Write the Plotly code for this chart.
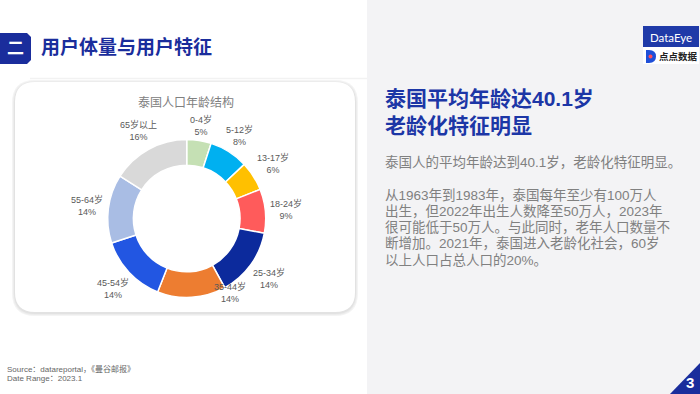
import math
import plotly.graph_objects as go

W, H = 700, 394

# ---- data ----
age_groups = ["0-4岁", "5-12岁", "13-17岁", "18-24岁", "25-34岁",
              "35-44岁", "45-54岁", "55-64岁", "65岁以上"]
shares = [5, 8, 6, 9, 14, 14, 14, 14, 16]
slice_colors = ["#c5e0b4", "#00b0f0", "#ffc000", "#ff5b5b", "#0c2a9c",
                "#ed7d31", "#2256e2", "#a9bde4", "#d9d9d9"]

chart_title = "泰国人口年龄结构"
page_title = "用户体量与用户特征"
badge_text = "二"
headline = ["泰国平均年龄达40.1岁", "老龄化特征明显"]
lead_line = "泰国人的平均年龄达到40.1岁，老龄化特征明显。"
para_lines = [
    "从1963年到1983年，泰国每年至少有100万人",
    "出生，但2022年出生人数降至50万人，2023年",
    "很可能低于50万人。与此同时，老年人口数量不",
    "断增加。2021年，泰国进入老龄化社会，60岁",
    "以上人口占总人口的20%。",
]
source_lines = ["Source：datareportal，《曼谷邮报》", "Date Range：2023.1"]
page_no = "3"

# layout tweak for one label that the source deck moved by hand (angle deg, radius px)
label_nudge = {"35-44岁": (-27, -8)}

FONT = "Liberation Sans, Noto Sans CJK SC, sans-serif"
BLUE = "#1c36a6"
DARK_BLUE = "#1a2d9c"


def px(x):
    return x / W


def py(y):
    return 1 - y / H


def pt(x, y):
    return f"{px(x):.5f},{py(y):.5f}"


def rrect_path(x0, y0, x1, y1, r):
    return (f"M {pt(x0 + r, y0)} L {pt(x1 - r, y0)} Q {pt(x1, y0)} {pt(x1, y0 + r)} "
            f"L {pt(x1, y1 - r)} Q {pt(x1, y1)} {pt(x1 - r, y1)} "
            f"L {pt(x0 + r, y1)} Q {pt(x0, y1)} {pt(x0, y1 - r)} "
            f"L {pt(x0, y0 + r)} Q {pt(x0, y0)} {pt(x0 + r, y0)} Z")


def poly_path(points):
    return "M " + " L ".join(pt(x, y) for x, y in points) + " Z"


shapes = []
# right grey panel
shapes.append(dict(type="rect", xref="paper", yref="paper", x0=px(367), x1=1, y0=0, y1=1,
                   fillcolor="#f3f3f5", line=dict(width=0), layer="below"))
# faint header underline
shapes.append(dict(type="line", xref="paper", yref="paper", x0=px(30), x1=px(367),
                   y0=py(78.5), y1=py(78.5), line=dict(color="#f2f2f2", width=1.5), layer="below"))
# card shadow layers
for grow, col in [(3, "#f4f4f4"), (2, "#ececec"), (1, "#e2e2e2")]:
    shapes.append(dict(type="path", xref="paper", yref="paper",
                       path=rrect_path(15 - grow, 82 - grow + 1, 355 + grow, 312 + grow + 1, 20 + grow),
                       fillcolor=col, line=dict(width=0), layer="below"))
shapes.append(dict(type="path", xref="paper", yref="paper",
                   path=rrect_path(15, 82, 355, 312, 20),
                   fillcolor="white", line=dict(width=0), layer="below"))
# header badge
shapes.append(dict(type="path", xref="paper", yref="paper",
                   path=poly_path([(0, 33), (27, 33), (31, 37), (31, 60), (27, 64), (0, 64)]),
                   fillcolor=DARK_BLUE, line=dict(width=0), layer="below"))
# logo box
shapes.append(dict(type="rect", xref="paper", yref="paper", x0=px(643), x1=px(699),
                   y0=py(47), y1=py(26), fillcolor="#1f3aa8", line=dict(width=0), layer="below"))
shapes.append(dict(type="rect", xref="paper", yref="paper", x0=px(643), x1=px(699),
                   y0=py(64), y1=py(47), fillcolor="white", line=dict(width=0), layer="below"))
# small logo icon
shapes.append(dict(type="path", xref="paper", yref="paper",
                   path=(f"M {pt(646, 50)} L {pt(649, 50)} Q {pt(656, 50)} {pt(656, 56.5)} "
                         f"Q {pt(656, 63)} {pt(649, 63)} L {pt(646, 63)} Z"),
                   fillcolor="#1f4fd8", line=dict(width=0), layer="below"))
shapes.append(dict(type="circle", xref="paper", yref="paper", x0=px(648.5), x1=px(652.5),
                   y0=py(58.5), y1=py(54.5), fillcolor="#ff4d5a", line=dict(width=0), layer="below"))
# page number triangle
shapes.append(dict(type="path", xref="paper", yref="paper",
                   path=poly_path([(670, 394), (700, 363), (700, 394)]),
                   fillcolor=DARK_BLUE, line=dict(width=0), layer="below"))

annotations = []


def add_text(text, x, y, size, color, bold=False, xanchor="left", family=FONT):
    t = f"<b>{text}</b>" if bold else text
    annotations.append(dict(text=t, x=px(x), y=py(y), xref="paper", yref="paper",
                            xanchor=xanchor, yanchor="middle", showarrow=False,
                            font=dict(size=size, color=color, family=family)))


add_text(badge_text, 15.5, 48, 17, "white", bold=True, xanchor="center")
add_text(page_title, 38.5, 47, 19, DARK_BLUE, bold=True)
add_text(chart_title, 186.5, 102.5, 12, "#808080", xanchor="center")
add_text(headline[0], 383, 98.5, 21, BLUE, bold=True)
add_text(headline[1], 383, 125, 21, BLUE, bold=True)
add_text(lead_line, 383, 162, 13.5, "#808080")
for i, line in enumerate(para_lines):
    add_text(line, 383, 195 + i * 16.3, 13.5, "#808080")
add_text(source_lines[0], 5, 369, 8, "#666666")
add_text(source_lines[1], 5, 378, 8, "#666666")
add_text(page_no, 690, 382, 15, "white", bold=True, xanchor="center")
add_text("DataEye", 671, 37, 11.5, "white", xanchor="center", family="Lato, Liberation Sans, sans-serif")
add_text("点点数据", 678.5, 56.5, 9.5, "#222222", bold=True, xanchor="center")

# ---- donut ----
cx, cy, r = 186.7, 218.5, 79
fig = go.Figure(go.Pie(
    labels=age_groups, values=shares, hole=0.675, sort=False,
    direction="clockwise", rotation=0,
    marker=dict(colors=slice_colors, line=dict(color="white", width=1.5)),
    textinfo="none",
    domain=dict(x=[px(cx - r), px(cx + r)], y=[py(cy + r), py(cy - r)]),
    showlegend=False, hoverinfo="skip",
))

# data labels placed just outside each slice's middle angle
total = sum(shares)
cum = 0
LBL = 9
for lab, v in zip(age_groups, shares):
    mid = (cum + v / 2) / total * 360
    cum += v
    text = f"{lab}<br>{v}%"
    width_est = sum(LBL if ord(c) > 255 else LBL * 0.56 for c in lab)
    hw, hh = width_est / 2, 10.5
    th = math.radians(mid)
    dist = r + 3 + abs(math.sin(th)) * hw + abs(math.cos(th)) * hh
    da, dr = label_nudge.get(lab, (0, 0))
    th = math.radians(mid + da)
    dist += dr
    lx = cx + dist * math.sin(th)
    ly = cy - dist * math.cos(th)
    annotations.append(dict(text=text, x=px(lx), y=py(ly), xref="paper", yref="paper",
                            xanchor="center", yanchor="middle", showarrow=False,
                            font=dict(size=LBL, color="#595959", family=FONT)))

fig.update_layout(
    width=W, height=H, margin=dict(l=0, r=0, t=0, b=0),
    paper_bgcolor="white", plot_bgcolor="rgba(0,0,0,0)",
    shapes=shapes, annotations=annotations, showlegend=False,
)
fig.write_html("out.html")
